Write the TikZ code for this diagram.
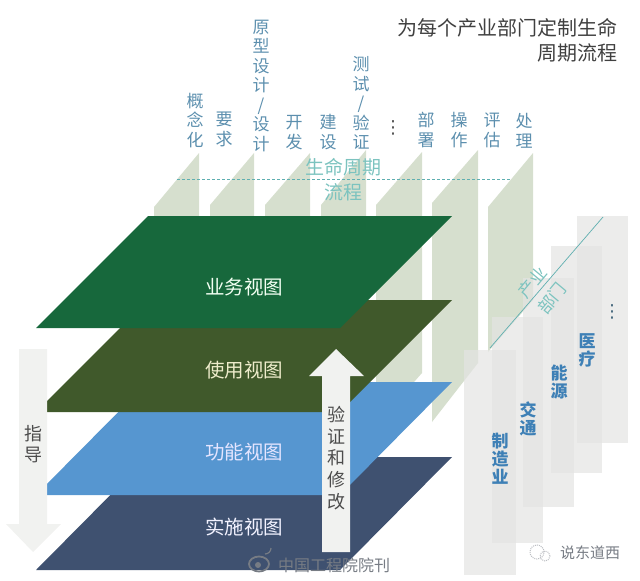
\documentclass[tikz,border=0pt]{standalone}
\usepackage{xcolor}
\usepackage{fontspec}
\setmainfont{Noto Sans CJK SC}
\newfontfamily\symbolfont{DejaVu Sans}
\definecolor{layergreen}{HTML}{17683C}
\definecolor{layerolive}{HTML}{40592B}
\definecolor{layerblue}{HTML}{5696D0}
\definecolor{layernavy}{HTML}{3F5170}
\definecolor{colgreen}{HTML}{D6DFCE}
\definecolor{colgray}{HTML}{E4E4E2}
\definecolor{arrowgray}{HTML}{F1F2F0}
\definecolor{labelblue}{HTML}{5C8FAE}
\definecolor{sectorblue}{HTML}{3E80B6}
\definecolor{tealtext}{HTML}{7CC3BF}
\definecolor{tealline}{HTML}{5FAFB0}
\definecolor{markgray}{HTML}{777C84}
\tikzset{
  phaselabel/.style={anchor=south, inner sep=0pt, align=center, text=labelblue, font=\fontsize{17}{19.5}\selectfont},
  sectorlabel/.style={anchor=north, inner sep=0pt, align=center, text=sectorblue, font=\fontsize{17}{18}\selectfont\bfseries},
  viewlabel/.style={inner sep=0pt, font=\fontsize{19.5}{21}\selectfont},
  tealabel/.style={inner sep=0pt, text=tealtext, font=\fontsize{19}{21}\selectfont},
  arrowlabel/.style={inner sep=0pt, align=center, text=black!70, font=\fontsize{18}{21.6}\selectfont},
  dotslabel/.style={inner sep=0pt, font=\fontsize{18}{20}\symbolfont},
  sectorcol/.style={fill=colgray, fill opacity=0.7}
}
\begin{document}
\begin{tikzpicture}[x=1pt,y=-1pt]
    \useasboundingbox (0,0) rectangle (640,581);

    % Life cycle columns
    \fill[colgreen] (199,153) -- (154,207) -- (154,300) -- (199,300) -- cycle;
    \fill[colgreen] (254,153) -- (210,205) -- (210,300) -- (254,300) -- cycle;
    \fill[colgreen] (310,153) -- (265,205) -- (265,300) -- (310,300) -- cycle;
    \fill[colgreen] (366,150) -- (321,205) -- (321,300) -- (366,300) -- cycle;
    \fill[colgreen] (422,152) -- (376,205) -- (376,425) -- (422,373) -- cycle;
    \fill[colgreen] (478,150) -- (432,203) -- (432,422) -- (478,363) -- cycle;
    \fill[colgreen] (533,153) -- (488,207) -- (488,352) -- (533,300) -- cycle;

    % Sector columns
    \fill[sectorcol] (577,216) rectangle (628,443);
    \fill[sectorcol] (551,246) rectangle (602,473);
    \fill[sectorcol] (523,278) rectangle (574,507);
    \fill[sectorcol] (492,317) rectangle (543,543);
    \fill[sectorcol] (464,350) rectangle (516,575);

    % Layers
    \fill[layernavy] (148,457) -- (452,457) -- (340,570) -- (36,570) -- cycle;
    \fill[layerblue] (148,382) -- (452,382) -- (340,495) -- (36,495) -- cycle;
    \fill[layerolive] (148,300) -- (452,300) -- (340,412) -- (36,412) -- cycle;
    \fill[layergreen] (148,216) -- (452,216) -- (340,328) -- (36,328) -- cycle;

    \node[viewlabel, text=green!5!white] (business) at (244,287) {业务视图};
    \node[viewlabel, text=olive!15!white] (usage) at (244,370) {使用视图};
    \node[viewlabel, text=blue!10!white] (function) at (244,452) {功能视图};
    \node[viewlabel, text=blue!5!white] (implement) at (244,527) {实施视图};

    % Arrows
    \fill[arrowgray] (19,349) -- (47,349) -- (47,524) -- (61,524) -- (33,552) -- (6,524) -- (19,524) -- cycle;
    \fill[arrowgray] (322,552) -- (350,552) -- (350,376) -- (364,376) -- (336,349) -- (309,376) -- (322,376) -- cycle;
    \node[arrowlabel] (guide) at (33,444) {指\\导};
    \node[arrowlabel] (verify) at (336,458) {验\\证\\和\\修\\改};

    % Title
    \node[anchor=east, inner sep=0pt, align=right, text=black!75, font=\fontsize{20}{25}\selectfont] (title) at (618,40) {为每个产业部门定制生命\\周期流程};

    % Life cycle labels
    \node[phaselabel] (concept) at (195,148) {概\\念\\化};
    \node[phaselabel] (require) at (224,147) {要\\求};
    \node[phaselabel] (design) at (261,152) {原\\型\\设\\计\\/\\设\\计};
    \node[phaselabel] (develop) at (294,150) {开\\发};
    \node[phaselabel] (build) at (328,150) {建\\设};
    \node[phaselabel] (test) at (361,150) {测\\试\\/\\验\\证};
    \node[dotslabel, text=black!70] (phasedots) at (393,128) {⋮};
    \node[phaselabel] (deploy) at (426,148) {部\\署};
    \node[phaselabel] (operate) at (459,148) {操\\作};
    \node[phaselabel] (assess) at (492,148) {评\\估};
    \node[phaselabel] (dispose) at (524,148) {处\\理};

    \coordinate (lifeleft) at (177,179);
    \coordinate (liferight) at (510,179);
    \draw[tealline, densely dashed, line width=0.7pt] (lifeleft) -- (liferight);
    \node[tealabel] (lifeup) at (343,167) {生命周期};
    \node[tealabel] (lifedown) at (343,192) {流程};

    % Sector labels
    \coordinate (sectorlow) at (490,348);
    \coordinate (sectorhigh) at (603,217);
    \draw[tealline, line width=0.7pt] (sectorlow) -- (sectorhigh);
    \node[tealabel, rotate=50, font=\fontsize{17}{19}\selectfont] (sectorup) at (533,282) {产业};
    \node[tealabel, rotate=50, font=\fontsize{17}{19}\selectfont] (sectordown) at (552,298) {部门};

    \node[sectorlabel] (manufacture) at (500,433) {制\\造\\业};
    \node[sectorlabel] (traffic) at (528,402) {交\\通};
    \node[sectorlabel] (energy) at (559,365) {能\\源};
    \node[sectorlabel] (health) at (587,333) {医\\疗};
    \node[dotslabel, text=labelblue!70!black] (sectordots) at (612,312) {⋮};

    % Marks
    \draw[markgray, line width=1.8pt] (259,564) ellipse (10pt and 7.5pt);
    \fill[markgray] (258,565) circle (3pt);
    \draw[markgray, line width=1.2pt] (265,554) arc (-90:0:6pt);
    \node[inner sep=0pt, text=markgray, font=\fontsize{16}{18}\selectfont] (journal) at (334,565) {中国工程院院刊};
    \draw[markgray!50, line width=1pt, densely dotted] (537,552) circle (7pt);
    \draw[markgray!50, line width=1pt, densely dotted] (545,556) circle (5pt);
    \node[inner sep=0pt, text=markgray, font=\fontsize{15}{17}\selectfont] (account) at (590,553) {说东道西};
\end{tikzpicture}
\end{document}
